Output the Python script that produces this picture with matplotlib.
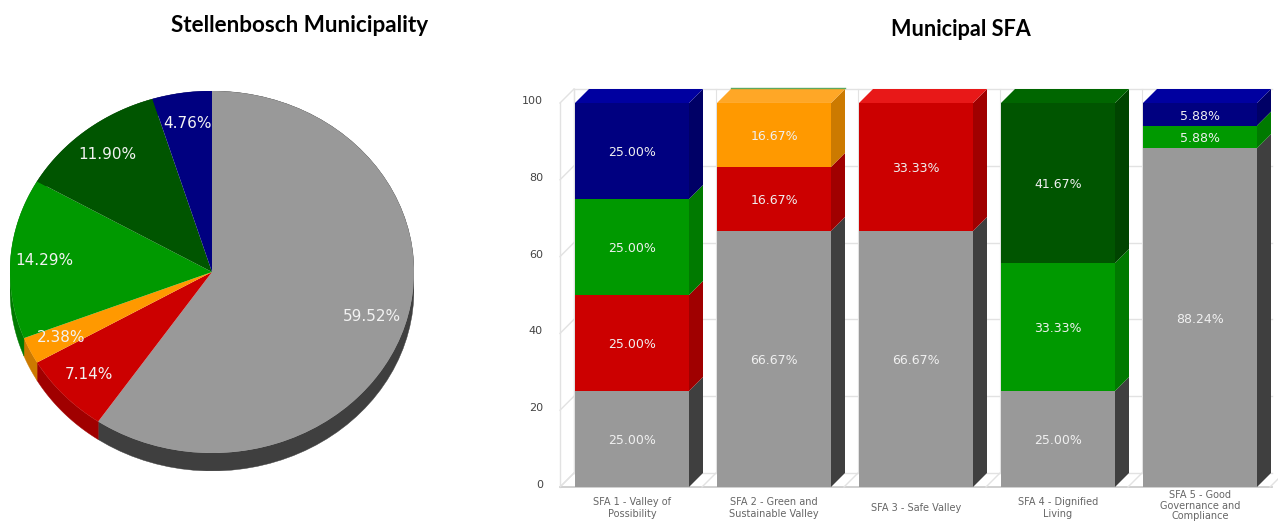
import numpy as np
import matplotlib
matplotlib.use('Agg')
import matplotlib.pyplot as plt
from matplotlib.patches import Polygon

W = 1278
H = 522

# pie
pie_values = [59.52, 7.14, 2.38, 14.29, 11.90, 4.76]
pie_colors = ['#999999', '#cc0000', '#ff9900', '#009900', '#005500', '#000080']
pie_sides = ['#3f3f3f', '#a00000', '#cc7a00', '#007a00', '#004400', '#000066']

# stacked bars
categories = ['SFA 1 - Valley of\nPossibility', 'SFA 2 - Green and\nSustainable Valley',
              'SFA 3 - Safe Valley', 'SFA 4 - Dignified\nLiving',
              'SFA 5 - Good\nGovernance and\nCompliance']
gray = [25.00, 66.67, 66.67, 25.00, 88.24]
red = [25.00, 16.67, 33.33, 0, 0]
orange = [0, 16.67, 0, 0, 0]
green = [25.00, 0, 0, 33.33, 5.88]
darkgreen = [0, 0, 0, 41.67, 0]
navy = [25.00, 0, 0, 0, 5.88]
series = [gray, red, orange, green, darkgreen, navy]
yticks = [0, 20, 40, 60, 80, 100]

tops = ['#b0b0b0', '#e81818', '#ffa726', '#00b000', '#006600', '#0000a0']


def make_axes(left, right, top, bottom):
    return fig.add_axes([left / W, 1 - bottom / H, (right - left) / W, (bottom - top) / H])


fig = plt.figure(figsize=(W / 100, H / 100), dpi=100)

fig.text(300 / W, 1 - 25 / H, 'Stellenbosch Municipality', family='Lato', weight='bold',
         fontsize=16.2, ha='center', va='center', color='black')
fig.text(961 / W, 1 - 29 / H, 'Municipal SFA', family='Lato', weight='bold',
         fontsize=15.6, ha='center', va='center', color='black')

# ---- pie, squashed to an ellipse, side wall drawn first
depth = 18 / 181
ax = make_axes(10, 414, 91, 471)
ang = 90.0
for v, c in zip(pie_values, pie_sides):
    step = v / sum(pie_values) * 360
    t = np.radians(np.linspace(ang, ang - step, 60))
    xs = np.cos(t)
    ys = np.sin(t)
    pts = np.r_[np.c_[xs, ys], np.c_[xs, ys - depth][::-1]]
    ax.add_patch(Polygon(pts, facecolor=c, edgecolor=c, lw=0.3))
    ang -= step

labels = ['%.2f%%' % v for v in pie_values]
wedges, texts = ax.pie(pie_values, colors=pie_colors, startangle=90, counterclock=False,
                       labels=labels, labeldistance=0.83, radius=1,
                       textprops={'color': '#f2f2f2', 'fontsize': 11})
for t in texts:
    t.set_ha('center')
    t.set_va('center')
ax.set_aspect('auto')
ax.set_xlim(-1, 1)
ax.set_ylim(-1 - depth, 1)
ax.axis('off')

# ---- bars, x in bar units (142 px), y in percent (3.84 px)
px_x = 142.0
px_y = 3.84
dx = 14 / px_x
dy = 14 / px_y
width = 114 / px_x
ax2 = make_axes(520, W, 80, 522)
ax2.set_xlim((520 - 632) / px_x, (W - 632) / px_x)
ax2.set_ylim(-(522 - 487) / px_y, (487 - 80) / px_y)
ax2.axis('off')

grid = '#e2e2e2'
x0 = (560 - 632) / px_x
x1 = (1258 - 632) / px_x
for y in yticks:
    ax2.plot([x0, x0 + dx], [y, y + dy], color=grid, lw=1, zorder=1)
    ax2.plot([x0 + dx, x1 + dx], [y + dy, y + dy], color=grid, lw=1, zorder=1)
    ax2.text(x0 - 17 / px_x, y + 0.5, str(y), ha='right', va='center', fontsize=8, color='#444444')
ax2.plot([x0, x0], [0, 100], color=grid, lw=1, zorder=1)
ax2.plot([x0 + dx, x0 + dx], [dy, 100 + dy], color=grid, lw=1, zorder=1)
ax2.plot([x0, x1 + dx], [0, 0], color='#c8c8c8', lw=1.2, zorder=1)
for i in range(6):
    ax2.plot([x0 + i, x0 + i + dx], [0, dy], color=grid, lw=1, zorder=1)
    ax2.plot([x0 + i + dx, x0 + i + dx], [dy, 100 + dy], color=grid, lw=0.8, zorder=1)

xpos = np.arange(len(categories))
bottom = np.zeros(len(categories))
for s, vals in enumerate(series):
    vals = np.array(vals)
    ax2.bar(xpos, vals, width=width, bottom=bottom, color=pie_colors[s], zorder=3)
    for i in np.nonzero(vals)[0]:
        xr = xpos[i] + width / 2
        xl = xpos[i] - width / 2
        b = bottom[i]
        t = b + vals[i]
        ax2.add_patch(Polygon([(xr, b), (xr + dx, b + dy), (xr + dx, t + dy), (xr, t)],
                              facecolor=pie_sides[s], edgecolor='none', zorder=3))
        ax2.text(xpos[i], b + vals[i] / 2 - 0.5, '%.2f%%' % vals[i], ha='center', va='center',
                 fontsize=9, color='#f0f0f0', zorder=5)
        # the top face belongs to the last series that has a value
        if sum(ser[i] for ser in series[s + 1:]) == 0:
            ax2.add_patch(Polygon([(xl, t), (xl + dx, t + dy), (xr + dx, t + dy), (xr, t)],
                                  facecolor=tops[s], edgecolor='none', zorder=3))
    bottom += vals

# thin green trace left above the orange top of SFA 2
ax2.plot([1 - width / 2 + dx, 1 + width / 2 + dx], [100 + dy + 0.3, 100 + dy + 0.3],
         color='#5fa85f', lw=1, zorder=4)

for i, c in enumerate(categories):
    # three lines only just fit under the floor
    three = c.count('\n') == 2
    ax2.text(xpos[i], -4.9 if three else -5.5, c, ha='center', va='center', fontsize=7,
             color='#666666', linespacing=1.05 if three else 1.25, clip_on=False)

fig.savefig('out.png', dpi=100)
